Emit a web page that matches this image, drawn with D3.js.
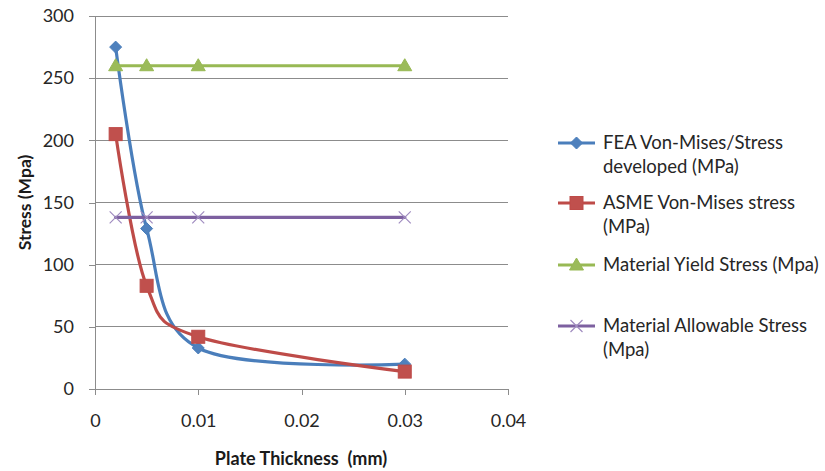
<!DOCTYPE html>
<html>
<head>
<meta charset="utf-8">
<script src="https://cdn.jsdelivr.net/npm/d3@7/dist/d3.min.js"></script>
<style>
  html, body { margin: 0; padding: 0; background: #fff; }
  svg { display: block; font-family: Lato, "Open Sans", sans-serif; }
</style>
</head>
<body>
<svg id="chart" width="825" height="471"></svg>
<script>
// Plate thickness (mm) at which each stress was evaluated
const thickness = [0.002, 0.005, 0.01, 0.03];

// Stress values (MPa)
const feaStress = [275, 129, 33, 20];
const asmeStress = [205, 83, 42, 14];
const yieldStress = [260, 260, 260, 260];
const allowableStress = [138, 138, 138, 138];

const seriesNames = [
  ["FEA Von-Mises/Stress", "developed (MPa)"],
  ["ASME Von-Mises stress", "(MPa)"],
  ["Material Yield Stress (Mpa)"],
  ["Material Allowable Stress", "(Mpa)"]
];

const xTicks = [0, 0.01, 0.02, 0.03, 0.04];
const yTicks = [0, 50, 100, 150, 200, 250, 300];

const svg = d3.select("#chart");

const x = d3.scaleLinear().domain([0, 0.04]).range([95, 508]);
const y = d3.scaleLinear().domain([0, 300]).range([389, 16]);

const gridColor = "#8c8c8c";
const textColor = "#262626";

// horizontal gridlines
svg.append("g")
  .selectAll("line")
  .data(yTicks.filter(d => d > 0))
  .join("line")
  .attr("x1", x(0)).attr("x2", x(0.04))
  .attr("y1", d => y(d)).attr("y2", d => y(d))
  .attr("stroke", gridColor).attr("stroke-width", 1)
  .attr("shape-rendering", "crispEdges");

// y axis
const yAxis = svg.append("g")
  .attr("transform", `translate(${x(0)},0)`)
  .call(d3.axisLeft(y).tickValues(yTicks).tickSize(6).tickPadding(15).tickFormat(d3.format("d")));
// x axis
const xAxis = svg.append("g")
  .attr("transform", `translate(0,${y(0)})`)
  .call(d3.axisBottom(x).tickValues(xTicks).tickSize(6).tickPadding(19)
    .tickFormat(d => d === 0 ? "0" : d3.format(".2f")(d)));

[yAxis, xAxis].forEach(ax => {
  ax.select(".domain").attr("stroke", gridColor).attr("shape-rendering", "crispEdges");
  ax.selectAll(".tick line").attr("stroke", gridColor).attr("shape-rendering", "crispEdges");
  ax.selectAll(".tick text").attr("fill", textColor).attr("font-size", 18)
    .attr("font-family", "Lato, sans-serif");
});

// axis titles
svg.append("text")
  .attr("transform", `translate(31,${(y(0) + y(300)) / 2}) rotate(-90)`)
  .attr("text-anchor", "middle")
  .attr("font-size", 17.5).attr("font-weight", "bold").attr("fill", "#1a1a1a")
  .text("Stress (Mpa)");

svg.append("text")
  .attr("x", 301).attr("y", 465)
  .attr("text-anchor", "middle")
  .attr("font-size", 18).attr("font-weight", "bold").attr("fill", "#1a1a1a")
  .attr("xml:space", "preserve")
  .text("Plate Thickness  (mm)");

const series = [
  { values: feaStress, line: "#4A7EBB", fill: "#4F81BD", marker: "diamond" },
  { values: asmeStress, line: "#BE4B48", fill: "#C0504D", marker: "square" },
  { values: yieldStress, line: "#98B954", fill: "#9BBB59", marker: "triangle" },
  { values: allowableStress, line: "#7D60A0", fill: "#8064A2", marker: "cross" }
];

const line = d3.line()
  .x(d => x(d[0]))
  .y(d => y(d[1]))
  .curve(d3.curveCardinal.tension(0));

function drawMarker(g, type, cx, cy, s) {
  if (type === "diamond") {
    g.append("path")
      .attr("d", `M${cx},${cy - 6}L${cx + 6},${cy}L${cx},${cy + 6}L${cx - 6},${cy}Z`)
      .attr("fill", s.fill).attr("stroke", s.line).attr("stroke-width", 1);
  } else if (type === "square") {
    g.append("rect")
      .attr("x", cx - 6.5).attr("y", cy - 6.5).attr("width", 13).attr("height", 13)
      .attr("fill", s.fill).attr("stroke", s.line).attr("stroke-width", 1);
  } else if (type === "triangle") {
    g.append("path")
      .attr("d", `M${cx},${cy - 7}L${cx + 7},${cy + 5}L${cx - 7},${cy + 5}Z`)
      .attr("fill", s.fill).attr("stroke", s.line).attr("stroke-width", 1);
  } else if (type === "cross") {
    g.append("path")
      .attr("d", `M${cx - 6},${cy - 6}L${cx + 6},${cy + 6}M${cx + 6},${cy - 6}L${cx - 6},${cy + 6}`)
      .attr("fill", "none").attr("stroke", "#a08cc0").attr("stroke-width", 1.2);
  }
}

series.forEach(s => {
  const pts = thickness.map((t, i) => [t, s.values[i]]);
  const g = svg.append("g");
  g.append("path")
    .attr("d", line(pts))
    .attr("fill", "none")
    .attr("stroke", s.line)
    .attr("stroke-width", 3.2)
    .attr("stroke-linejoin", "round")
    .attr("stroke-linecap", "round");
  pts.forEach(p => drawMarker(g, s.marker, x(p[0]), y(p[1]), s));
});

// legend
const legendY = [143, 203, 265, 326];
const legend = svg.append("g");
series.forEach((s, i) => {
  const ly = legendY[i];
  const g = legend.append("g");
  g.append("line")
    .attr("x1", 558).attr("x2", 595).attr("y1", ly).attr("y2", ly)
    .attr("stroke", s.line).attr("stroke-width", 3);
  drawMarker(g, s.marker, 576.5, ly, s);
  seriesNames[i].forEach((t, j) => {
    g.append("text")
      .attr("x", 603).attr("y", ly + j * 23.5 + 6)
      .attr("font-size", 18.5).attr("fill", textColor)
      .text(t);
  });
});
</script>
</body>
</html>
